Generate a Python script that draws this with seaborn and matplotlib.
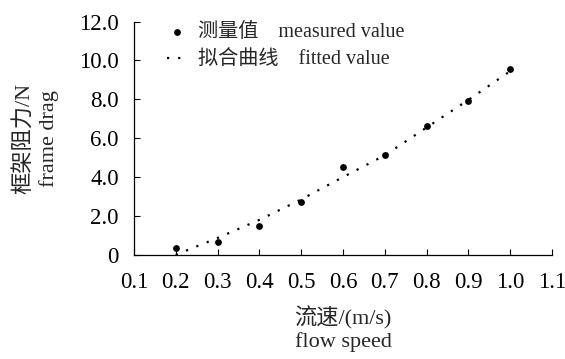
import matplotlib
matplotlib.use("Agg")
import matplotlib.pyplot as plt
import seaborn as sns
import pandas as pd

speed = [0.2, 0.3, 0.4, 0.5, 0.6, 0.7, 0.8, 0.9, 1.0]
measured = [0.34, 0.65, 1.46, 2.74, 4.51, 5.14, 6.64, 7.89, 9.55]
fitted = [0.0, 0.87, 1.8, 2.85, 4.0, 5.12, 6.55, 7.97, 9.45]
xticks = [0.1, 0.2, 0.3, 0.4, 0.5, 0.6, 0.7, 0.8, 0.9, 1.0, 1.1]
yticks = [0, 2, 4, 6, 8, 10, 12]
ytick_labels = ["0", "2.0", "4.0", "6.0", "8.0", "10.0", "12.0"]

sns.set_theme(style="ticks")
plt.rcParams['font.family'] = ['Liberation Serif', 'Noto Sans CJK SC', 'DejaVu Sans']
plt.rcParams['axes.unicode_minus'] = False

df = pd.DataFrame({"speed": speed, "measured": measured, "fitted": fitted})

fig = plt.figure(figsize=(5.65, 3.59), dpi=100)
ax = fig.add_axes([0.237, 0.290, 0.740, 0.650])

sns.lineplot(data=df, x="speed", y="fitted", ax=ax, color="black",
             linewidth=1.6, linestyle=(0, (1, 4)), label="拟合曲线    fitted value")
sns.scatterplot(data=df, x="speed", y="measured", ax=ax, color="black",
                s=24, edgecolor="black", linewidth=0, label="测量值    measured value")

ax.set_xlim(0.1, 1.1)
ax.set_ylim(0, 12)
ax.set_xticks(xticks)
ax.set_xticklabels([f"{v:.1f}" for v in xticks])
ax.set_yticks(yticks)
ax.set_yticklabels(ytick_labels)
ax.tick_params(direction="in", length=4, width=0.8, colors="black", labelsize=16.5)
ax.tick_params(axis="y", pad=11)
ax.tick_params(axis="x", pad=12)
for s in ["top", "right"]:
    ax.spines[s].set_visible(False)
for s in ["left", "bottom"]:
    ax.spines[s].set_linewidth(0.9)
    ax.spines[s].set_color("black")

ax.set_xlabel("流速/(m/s)\nflow speed", fontsize=16, linespacing=1.15, labelpad=10)
ax.set_ylabel("框架阻力/N\nframe drag", fontsize=16, linespacing=1.35, labelpad=14)

handles, labels = ax.get_legend_handles_labels()
order = [1, 0]
ax.legend([handles[i] for i in order], [labels[i] for i in order],
          loc="upper left", bbox_to_anchor=(0.079, 0.995), frameon=False,
          fontsize=14.5, handlelength=1.0, handletextpad=0.55, labelspacing=0.45,
          borderaxespad=0, borderpad=0)

fig.savefig("out.png", dpi=100)
